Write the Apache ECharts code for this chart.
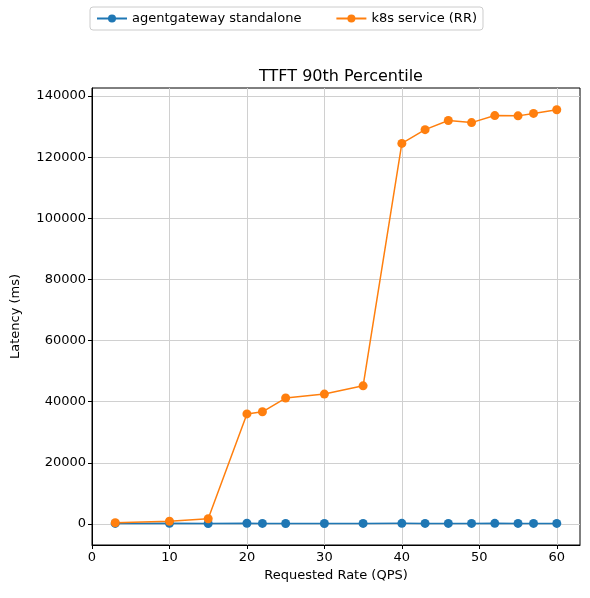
<!DOCTYPE html>
<html><head><meta charset="utf-8">
<script src="https://cdn.jsdelivr.net/npm/echarts@6/dist/echarts.min.js"></script>
<style>html,body{margin:0;padding:0;background:#fff}#c{width:590px;height:598px}</style>
</head><body><div id="c"></div>
<script>
const rates=[3,10,15,20,22,25,30,35,40,43,46,49,52,55,57,60];
const agentgateway=[200,220,180,250,200,180,170,190,210,200,190,200,210,200,190,200];
const k8s=[400,900,1700,36000,36700,41200,42500,45200,124500,129000,132000,131300,133600,133500,134300,135500];
const yTicks=[0,20000,40000,60000,80000,100000,120000,140000];
const xTicks=[0,10,20,30,40,50,60];
const f='DejaVu Sans';
const chart=echarts.init(document.getElementById('c'));
chart.setOption({
 animation:false,
 textStyle:{fontFamily:f},
 title:{text:'TTFT 90th Percentile',left:336,top:64,textAlign:'center',textStyle:{fontFamily:f,fontSize:16,fontWeight:'normal',color:'#000'}},
 legend:{left:90,top:7,itemGap:34,borderColor:'#ccc',borderWidth:1,borderRadius:3,padding:[5,6],itemWidth:30,itemHeight:10,
   textStyle:{fontFamily:f,fontSize:13,color:'#000'}},
 grid:{left:92,right:10,top:88,bottom:53,show:true,borderColor:'#000',borderWidth:1},
 xAxis:{type:'value',min:0,max:63,name:'Requested Rate (QPS)',nameLocation:'middle',nameGap:24,
   nameTextStyle:{fontFamily:f,fontSize:13,color:'#000'},
   axisLine:{onZero:false,lineStyle:{color:'#000'}},
   axisTick:{customValues:xTicks,length:4,lineStyle:{color:'#000'}},
   axisLabel:{customValues:xTicks,color:'#000',fontSize:13,margin:6},
   splitLine:{show:true,lineStyle:{color:'#d0d0d0'}}},
 yAxis:{type:'value',min:-6870,max:142617,name:'Latency (ms)',nameLocation:'middle',nameGap:70,
   nameTextStyle:{fontFamily:f,fontSize:13,color:'#000'},
   axisLine:{show:true,lineStyle:{color:'#000'}},
   axisTick:{show:true,customValues:yTicks,length:4,lineStyle:{color:'#000'}},
   axisLabel:{customValues:yTicks,color:'#000',fontSize:13,margin:6,formatter:v=>String(v)},
   splitLine:{show:true,lineStyle:{color:'#d0d0d0'}}},
 series:[
  {name:'agentgateway standalone',type:'line',data:rates.map((x,i)=>[x,agentgateway[i]]),symbol:'circle',symbolSize:9,
   itemStyle:{color:'#1f77b4'},lineStyle:{width:1.5,color:'#1f77b4'}},
  {name:'k8s service (RR)',type:'line',data:rates.map((x,i)=>[x,k8s[i]]),symbol:'circle',symbolSize:9,
   itemStyle:{color:'#ff7f0e'},lineStyle:{width:1.5,color:'#ff7f0e'}}
 ]
});
</script></body></html>
